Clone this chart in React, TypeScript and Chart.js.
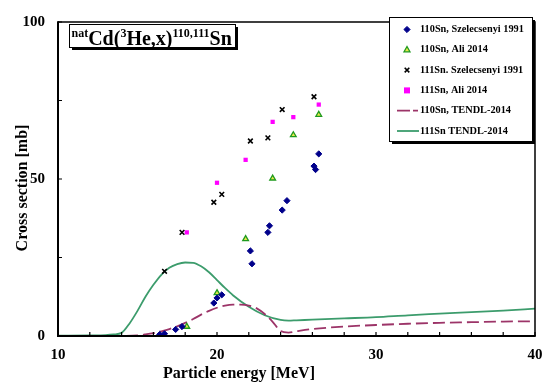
import React, { useEffect, useRef } from 'react';
import { Chart, registerables } from 'chart.js';

Chart.register(...registerables);

// 110Sn, Szelecsenyi 1991
const sn110SzX = [16.4, 16.7, 17.4, 17.8, 19.8, 20.0, 20.3, 22.1, 22.2, 23.2, 23.3, 24.1, 24.4, 26.1, 26.2, 26.4];
const sn110SzY = [0.5, 0.7, 2.1, 3.0, 10.5, 12.1, 13.1, 27.1, 23.0, 33.0, 35.1, 40.1, 43.1, 54.1, 53.0, 58.0];
// 110Sn, Ali 2014
const sn110AliX = [18.1, 20.0, 21.8, 23.5, 24.8, 26.4];
const sn110AliY = [3.0, 13.7, 30.9, 50.2, 64.0, 70.5];
// 111Sn, Szelecsenyi 1991
const sn111SzX = [16.7, 17.8, 19.8, 20.3, 22.1, 23.2, 24.1, 26.1];
const sn111SzY = [20.6, 33.0, 42.6, 45.1, 62.1, 63.1, 72.1, 76.2];
// 111Sn, Ali 2014
const sn111AliX = [18.1, 20.0, 21.8, 23.5, 24.8, 26.4];
const sn111AliY = [33.0, 48.8, 56.1, 68.2, 69.7, 73.7];
// 110Sn TENDL-2014
const tendl110X = [10, 12, 14, 15, 15.5, 16, 16.5, 17, 17.5, 18, 18.5, 19, 19.5, 20, 20.5, 21, 21.5, 22, 22.5, 23, 23.5, 24, 24.5, 25, 26, 28, 30, 32, 34, 36, 38, 40];
const tendl110Y = [0, 0, 0.05, 0.2, 0.5, 0.9, 1.5, 2.2, 3.1, 4.2, 5.4, 6.8, 8.0, 9.0, 9.7, 10.0, 10.0, 9.7, 8.8, 7.0, 4.5, 1.6, 1.1, 1.5, 2.2, 3.0, 3.5, 3.9, 4.2, 4.4, 4.6, 4.7];
// 111Sn TENDL-2014
const tendl111X = [10, 12, 13, 13.5, 14, 14.5, 15, 15.5, 16, 16.5, 17, 17.5, 18, 18.5, 19, 19.5, 20, 20.5, 21, 22, 23, 24, 24.5, 25, 26, 28, 30, 32, 34, 36, 38, 40];
const tendl111Y = [0.1, 0.2, 0.3, 0.5, 1.0, 4.0, 8.0, 12.5, 16.3, 19.5, 21.7, 22.9, 23.4, 23.3, 22.2, 20.3, 17.8, 15.3, 13.0, 9.3, 6.6, 5.1, 4.9, 5.0, 5.2, 5.6, 6.0, 6.6, 7.1, 7.6, 8.1, 8.7];

const xTickValues = [10, 12, 14, 16, 18, 20, 22, 24, 26, 28, 30, 32, 34, 36, 38, 40];
const yTickValues = [0, 25, 50, 75, 100];

const legendLabels = [
  '110Sn, Szelecsenyi 1991',
  '110Sn, Ali 2014',
  '111Sn. Szelecsenyi 1991',
  '111Sn, Ali 2014',
  '110Sn, TENDL-2014',
  '111Sn TENDL-2014',
];

const zip = (xs: number[], ys: number[]) => xs.map((x, i) => ({ x, y: ys[i] }));

const SERIF = '"Liberation Serif", "Times New Roman", serif';
const C_BLUE = '#00008B';
const C_TRI_B = '#1E9A1E';
const C_TRI_F = '#E8E84A';
const C_MAG = '#FF00FF';
const C_DASH = '#9C3468';
const C_GREEN = '#3C9C6C';

const decor = {
  id: 'decor',
  afterDraw(chart: any) {
    const ctx: CanvasRenderingContext2D = chart.ctx;
    const { left, right, top, bottom } = chart.chartArea;
    const xs = chart.scales.x;
    const ys = chart.scales.y;
    ctx.save();
    // frame
    ctx.strokeStyle = '#000';
    ctx.lineWidth = 1.5;
    ctx.beginPath();
    ctx.moveTo(left, top);
    ctx.lineTo(right, top);
    ctx.lineTo(right, bottom);
    ctx.stroke();
    ctx.lineWidth = 2;
    ctx.beginPath();
    ctx.moveTo(left, top - 0.75);
    ctx.lineTo(left, bottom);
    ctx.lineTo(right + 0.75, bottom);
    ctx.stroke();
    // inward ticks
    ctx.lineWidth = 1.2;
    ctx.beginPath();
    xTickValues.forEach((v) => {
      const px = xs.getPixelForValue(v);
      ctx.moveTo(px, bottom);
      ctx.lineTo(px, bottom - 4);
    });
    yTickValues.forEach((v) => {
      const py = ys.getPixelForValue(v);
      ctx.moveTo(left, py);
      ctx.lineTo(left + 4, py);
    });
    ctx.stroke();

    // axis titles
    ctx.fillStyle = '#000';
    ctx.font = `bold 16px ${SERIF}`;
    ctx.textAlign = 'center';
    ctx.textBaseline = 'middle';
    ctx.fillText('Particle energy [MeV]', 239, 374);
    ctx.save();
    ctx.translate(23, 188);
    ctx.rotate(-Math.PI / 2);
    ctx.fillText('Cross section [mb]', 0, 0);
    ctx.restore();

    // title box
    const bx = 69, by = 24, bw = 166, bh = 23;
    ctx.fillStyle = '#000';
    ctx.fillRect(bx + 3, by + 3, bw, bh);
    ctx.fillStyle = '#fff';
    ctx.fillRect(bx, by, bw, bh);
    ctx.strokeStyle = '#000';
    ctx.lineWidth = 1;
    ctx.strokeRect(bx + 0.5, by + 0.5, bw, bh);
    const parts: [string, boolean][] = [
      ['nat', true], ['Cd(', false], ['3', true], ['He,x)', false], ['110,111', true], ['Sn', false],
    ];
    let tx = 71.5;
    const base = 45;
    ctx.textAlign = 'left';
    ctx.textBaseline = 'alphabetic';
    ctx.fillStyle = '#000';
    parts.forEach(([t, sup]) => {
      ctx.font = sup ? `bold 12px ${SERIF}` : `bold 20px ${SERIF}`;
      ctx.fillText(t, tx, sup ? base - 8.5 : base);
      tx += ctx.measureText(t).width;
    });

    // legend box
    const lx = 389, ly = 17, lw = 143, lh = 124;
    ctx.fillStyle = '#000';
    ctx.fillRect(lx + 3, ly + 3, lw, lh);
    ctx.fillStyle = '#fff';
    ctx.fillRect(lx, ly, lw, lh);
    ctx.strokeStyle = '#000';
    ctx.lineWidth = 1;
    ctx.strokeRect(lx + 0.5, ly + 0.5, lw, lh);
    const mx = 407;
    const rowY = (i: number) => 29.5 + i * 20.3;
    ctx.font = `bold 10.3px ${SERIF}`;
    ctx.textBaseline = 'middle';
    legendLabels.forEach((lab, i) => {
      const yy = rowY(i);
      ctx.fillStyle = '#000';
      ctx.fillText(lab, 420, yy);
    });
    // markers
    const ds = chart.data.datasets;
    for (let i = 0; i < 4; i++) {
      const d = ds[i];
      const yy = rowY(i);
      ctx.save();
      ctx.fillStyle = d.backgroundColor;
      ctx.strokeStyle = d.borderColor;
      ctx.lineWidth = d.borderWidth;
      const r = d.pointRadius;
      ctx.beginPath();
      if (d.pointStyle === 'rectRot') {
        ctx.moveTo(mx, yy - r); ctx.lineTo(mx + r, yy); ctx.lineTo(mx, yy + r); ctx.lineTo(mx - r, yy); ctx.closePath();
        ctx.fill(); ctx.stroke();
      } else if (d.pointStyle === 'triangle') {
        ctx.moveTo(mx, yy - r); ctx.lineTo(mx + r * 0.9, yy + r * 0.6); ctx.lineTo(mx - r * 0.9, yy + r * 0.6); ctx.closePath();
        ctx.fill(); ctx.stroke();
      } else if (d.pointStyle === 'crossRot') {
        ctx.moveTo(mx - r * 0.7, yy - r * 0.7); ctx.lineTo(mx + r * 0.7, yy + r * 0.7);
        ctx.moveTo(mx + r * 0.7, yy - r * 0.7); ctx.lineTo(mx - r * 0.7, yy + r * 0.7);
        ctx.stroke();
      } else {
        ctx.fillRect(mx - r, yy - r, 2 * r, 2 * r);
      }
      ctx.restore();
    }
    // line samples
    ctx.lineWidth = 1.8;
    ctx.strokeStyle = C_DASH;
    ctx.setLineDash([13, 3]);
    ctx.beginPath();
    ctx.moveTo(397, rowY(4));
    ctx.lineTo(418, rowY(4));
    ctx.stroke();
    ctx.setLineDash([]);
    ctx.strokeStyle = C_GREEN;
    ctx.beginPath();
    ctx.moveTo(397, rowY(5));
    ctx.lineTo(419, rowY(5));
    ctx.stroke();
    ctx.restore();
  },
};

export default function App() {
  const ref = useRef<HTMLCanvasElement>(null);
  useEffect(() => {
    if (!ref.current) return;
    const chart = new Chart(ref.current, {
      type: 'scatter',
      data: {
        datasets: [
          {
            label: legendLabels[0],
            data: zip(sn110SzX, sn110SzY),
            pointStyle: 'rectRot',
            pointRadius: 3.1,
            backgroundColor: C_BLUE,
            borderColor: C_BLUE,
            borderWidth: 1,
          },
          {
            label: legendLabels[1],
            data: zip(sn110AliX, sn110AliY),
            pointStyle: 'triangle',
            pointRadius: 3.3,
            backgroundColor: C_TRI_F,
            borderColor: C_TRI_B,
            borderWidth: 1.3,
          },
          {
            label: legendLabels[2],
            data: zip(sn111SzX, sn111SzY),
            pointStyle: 'crossRot',
            pointRadius: 3.3,
            backgroundColor: '#000',
            borderColor: '#000',
            borderWidth: 1.6,
          },
          {
            label: legendLabels[3],
            data: zip(sn111AliX, sn111AliY),
            pointStyle: 'rect',
            pointRadius: 3,
            backgroundColor: C_MAG,
            borderColor: C_MAG,
            borderWidth: 0,
          },
          {
            label: legendLabels[4],
            type: 'line',
            data: zip(tendl110X, tendl110Y),
            showLine: true,
            pointRadius: 0,
            borderColor: C_DASH,
            backgroundColor: C_DASH,
            borderWidth: 1.8,
            borderDash: [12, 5],
            cubicInterpolationMode: 'monotone',
            fill: false,
          } as any,
          {
            label: legendLabels[5],
            type: 'line',
            data: zip(tendl111X, tendl111Y),
            showLine: true,
            pointRadius: 0,
            borderColor: C_GREEN,
            backgroundColor: C_GREEN,
            borderWidth: 1.8,
            cubicInterpolationMode: 'monotone',
            fill: false,
          } as any,
        ],
      },
      options: {
        responsive: false,
        animation: false,
        layout: { padding: { top: 12, right: 18, left: 0, bottom: 0 } },
        plugins: { legend: { display: false }, tooltip: { enabled: false }, title: { display: false } },
        scales: {
          x: {
            type: 'linear',
            min: 10,
            max: 40,
            grid: { display: false, drawTicks: false },
            border: { display: false },
            ticks: {
              stepSize: 10,
              autoSkip: false,
              padding: 10,
              color: '#000',
              font: { family: SERIF, size: 15, weight: 'bold' },
            },
            afterFit: (s: any) => { s.height = 51; },
          },
          y: {
            type: 'linear',
            min: 0,
            max: 100,
            grid: { display: false, drawTicks: false },
            border: { display: false },
            ticks: {
              stepSize: 50,
              padding: 13,
              color: '#000',
              font: { family: SERIF, size: 15, weight: 'bold' },
            },
            afterFit: (s: any) => { s.width = 58; },
          },
        },
      } as any,
      plugins: [decor],
    });
    return () => chart.destroy();
  }, []);
  return (
    <div style={{ position: 'fixed', left: 0, top: 0, width: 553, height: 387, background: '#fff' }}>
      <canvas ref={ref} width={553} height={387} style={{ display: 'block' }} />
    </div>
  );
}
